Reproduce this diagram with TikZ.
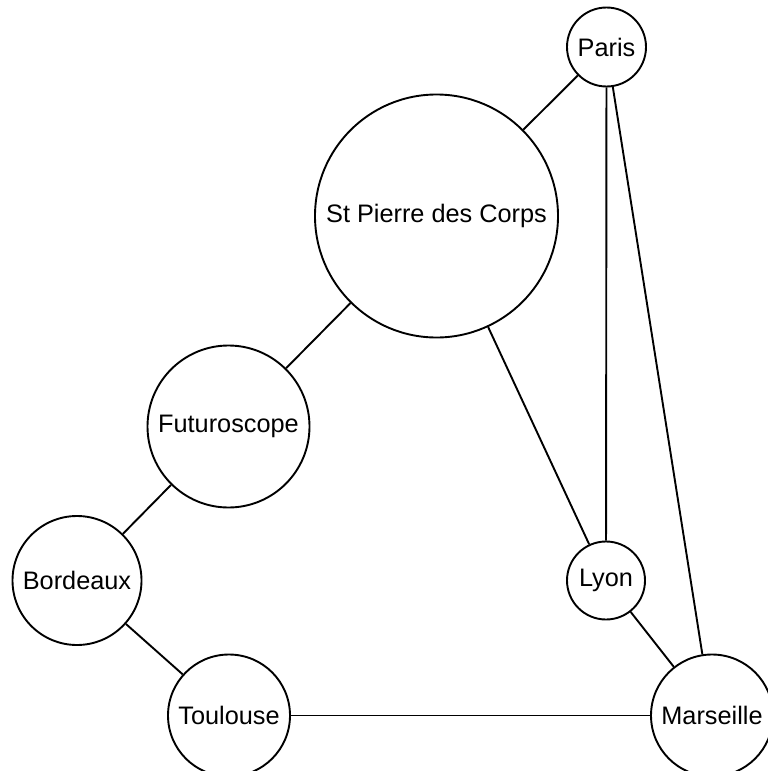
\documentclass[tikz,border=0pt]{standalone}
\usepackage{fontspec}
\setmainfont{Liberation Sans}
\begin{document}
\begin{tikzpicture}[x=1pt,y=-1pt,
  city/.style={draw,circle,fill=white,line width=1.9pt,inner sep=0pt,
    font=\fontsize{25.3}{30}\selectfont},
  link/.style={line width=1.9pt}]
\useasboundingbox (0,0) rectangle (768,771);
\node[city,minimum size=79pt] (paris) at (606.5,47) {Paris};
\node[city,minimum size=243pt] (stp) at (436.5,216) {St Pierre des Corps};
\node[city,minimum size=162pt] (futu) at (228.5,426.5) {Futuroscope};
\node[city,minimum size=129pt] (bord) at (77,580.5) {Bordeaux};
\node[city,minimum size=122pt] (toul) at (229,715.5) {Toulouse};
\node[city,minimum size=78pt] (lyon) at (606,580.5) {Lyon};
\node[city,minimum size=122pt] (mars) at (712,715.5) {Marseille};
\begin{scope}[on background layer/.try]
\end{scope}
\draw[link] (paris) -- (stp);
\draw[link] (paris) -- (lyon);
\draw[link] (paris) -- (mars);
\draw[link] (stp) -- (futu);
\draw[link] (stp) -- (lyon);
\draw[link] (futu) -- (bord);
\draw[link] (bord) -- (toul);
\draw[link] (toul) -- (mars);
\draw[link] (lyon) -- (mars);
\end{tikzpicture}
\end{document}
